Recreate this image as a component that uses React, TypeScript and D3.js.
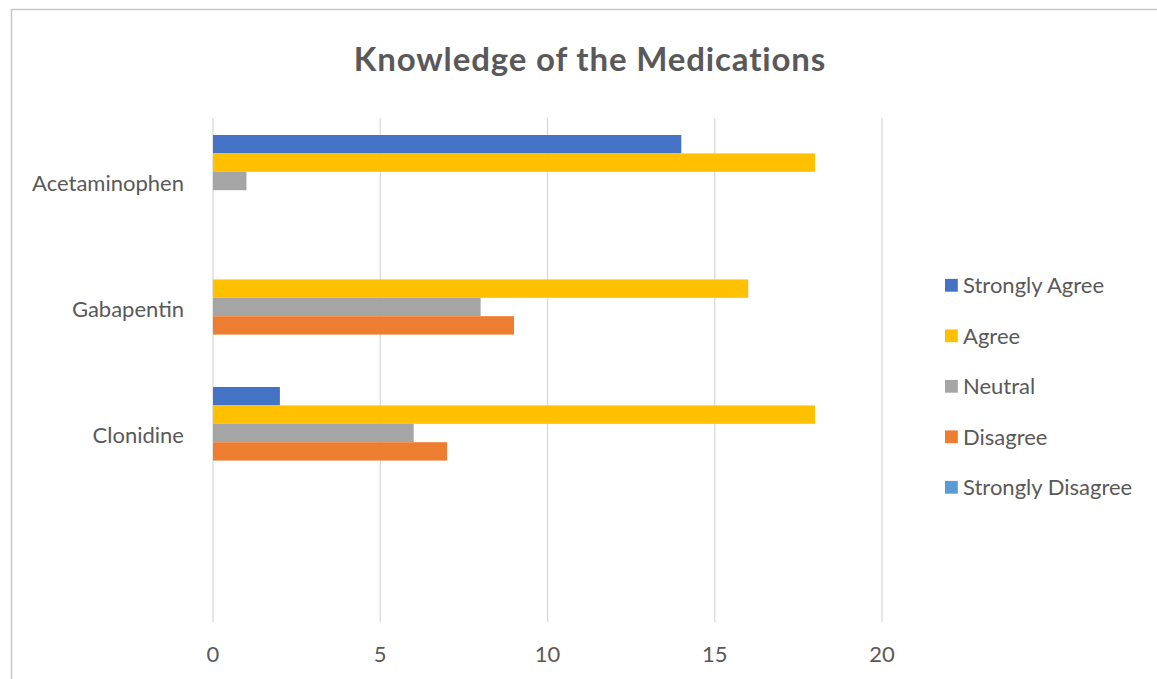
import React from "react";
import * as d3 from "d3";

const categories = ["Acetaminophen", "Gabapentin", "Clonidine", ""];
const seriesNames = ["Strongly Agree", "Agree", "Neutral", "Disagree", "Strongly Disagree"];
const stronglyAgree = [14, 0, 2, 0];
const agree = [18, 16, 18, 0];
const neutral = [1, 8, 6, 0];
const disagree = [0, 9, 7, 0];
const stronglyDisagree = [0, 0, 0, 0];
const seriesColors = ["#4472C4", "#FFC000", "#A5A5A5", "#ED7D31", "#5B9BD5"];
const xTicks = [0, 5, 10, 15, 20];
const title = "Knowledge of the Medications";

const seriesValues = [stronglyAgree, agree, neutral, disagree, stronglyDisagree];

const FONT = "Lato, 'Open Sans', sans-serif";
const TEXT = "#595959";

export default function App() {
  const W = 1157, H = 679;
  const x = d3.scaleLinear().domain([0, 20]).range([213, 882]);
  const y0 = d3.scaleBand<string>().domain(categories).range([118, 622]).paddingInner(0.27).paddingOuter(0.135);
  const y1 = d3.scaleBand<string>().domain(seriesNames).range([0, y0.bandwidth()]);

  return (
    <svg width={W} height={H} style={{ position: "absolute", left: 0, top: 0, background: "#fff" }} fontFamily={FONT}>
      <rect x={0} y={0} width={W} height={H} fill="#fff" />
      <rect x={11.5} y={9.5} width={W + 20} height={H + 20} fill="none" stroke="#c8c8c8" strokeWidth={1.5} />
      <text x={590} y={70.5} textAnchor="middle" fontSize={33} fontWeight="bold" letterSpacing={0.85} fill={TEXT}>{title}</text>
      {xTicks.map((t) => (
        <g key={t}>
          <line x1={x(t)} x2={x(t)} y1={118} y2={622} stroke="#d9d9d9" strokeWidth={1.3} />
          <text x={x(t)} y={662} textAnchor="middle" fontSize={22} fill={TEXT}>{t}</text>
        </g>
      ))}
      {categories.map((c, ci) => (
        <g key={ci} transform={`translate(0,${y0(c)})`}>
          {seriesNames.map((s, si) => {
            const v = seriesValues[si][ci];
            if (!v) return null;
            return (
              <rect key={s} x={x(0)} y={y1(s)} width={x(v) - x(0)} height={y1.bandwidth()} fill={seriesColors[si]} />
            );
          })}
          {c && (
            <text x={184} y={y1.bandwidth() * 2.5 + 10.5} textAnchor="end" fontSize={22} fill={TEXT}>{c}</text>
          )}
        </g>
      ))}
      {seriesNames.map((s, i) => (
        <g key={s} transform={`translate(945,${285.3 + i * 50.5})`}>
          <rect x={0} y={-6.4} width={12.8} height={12.8} fill={seriesColors[i]} />
          <text x={18} y={8} fontSize={22} fill={TEXT}>{s}</text>
        </g>
      ))}
    </svg>
  );
}
